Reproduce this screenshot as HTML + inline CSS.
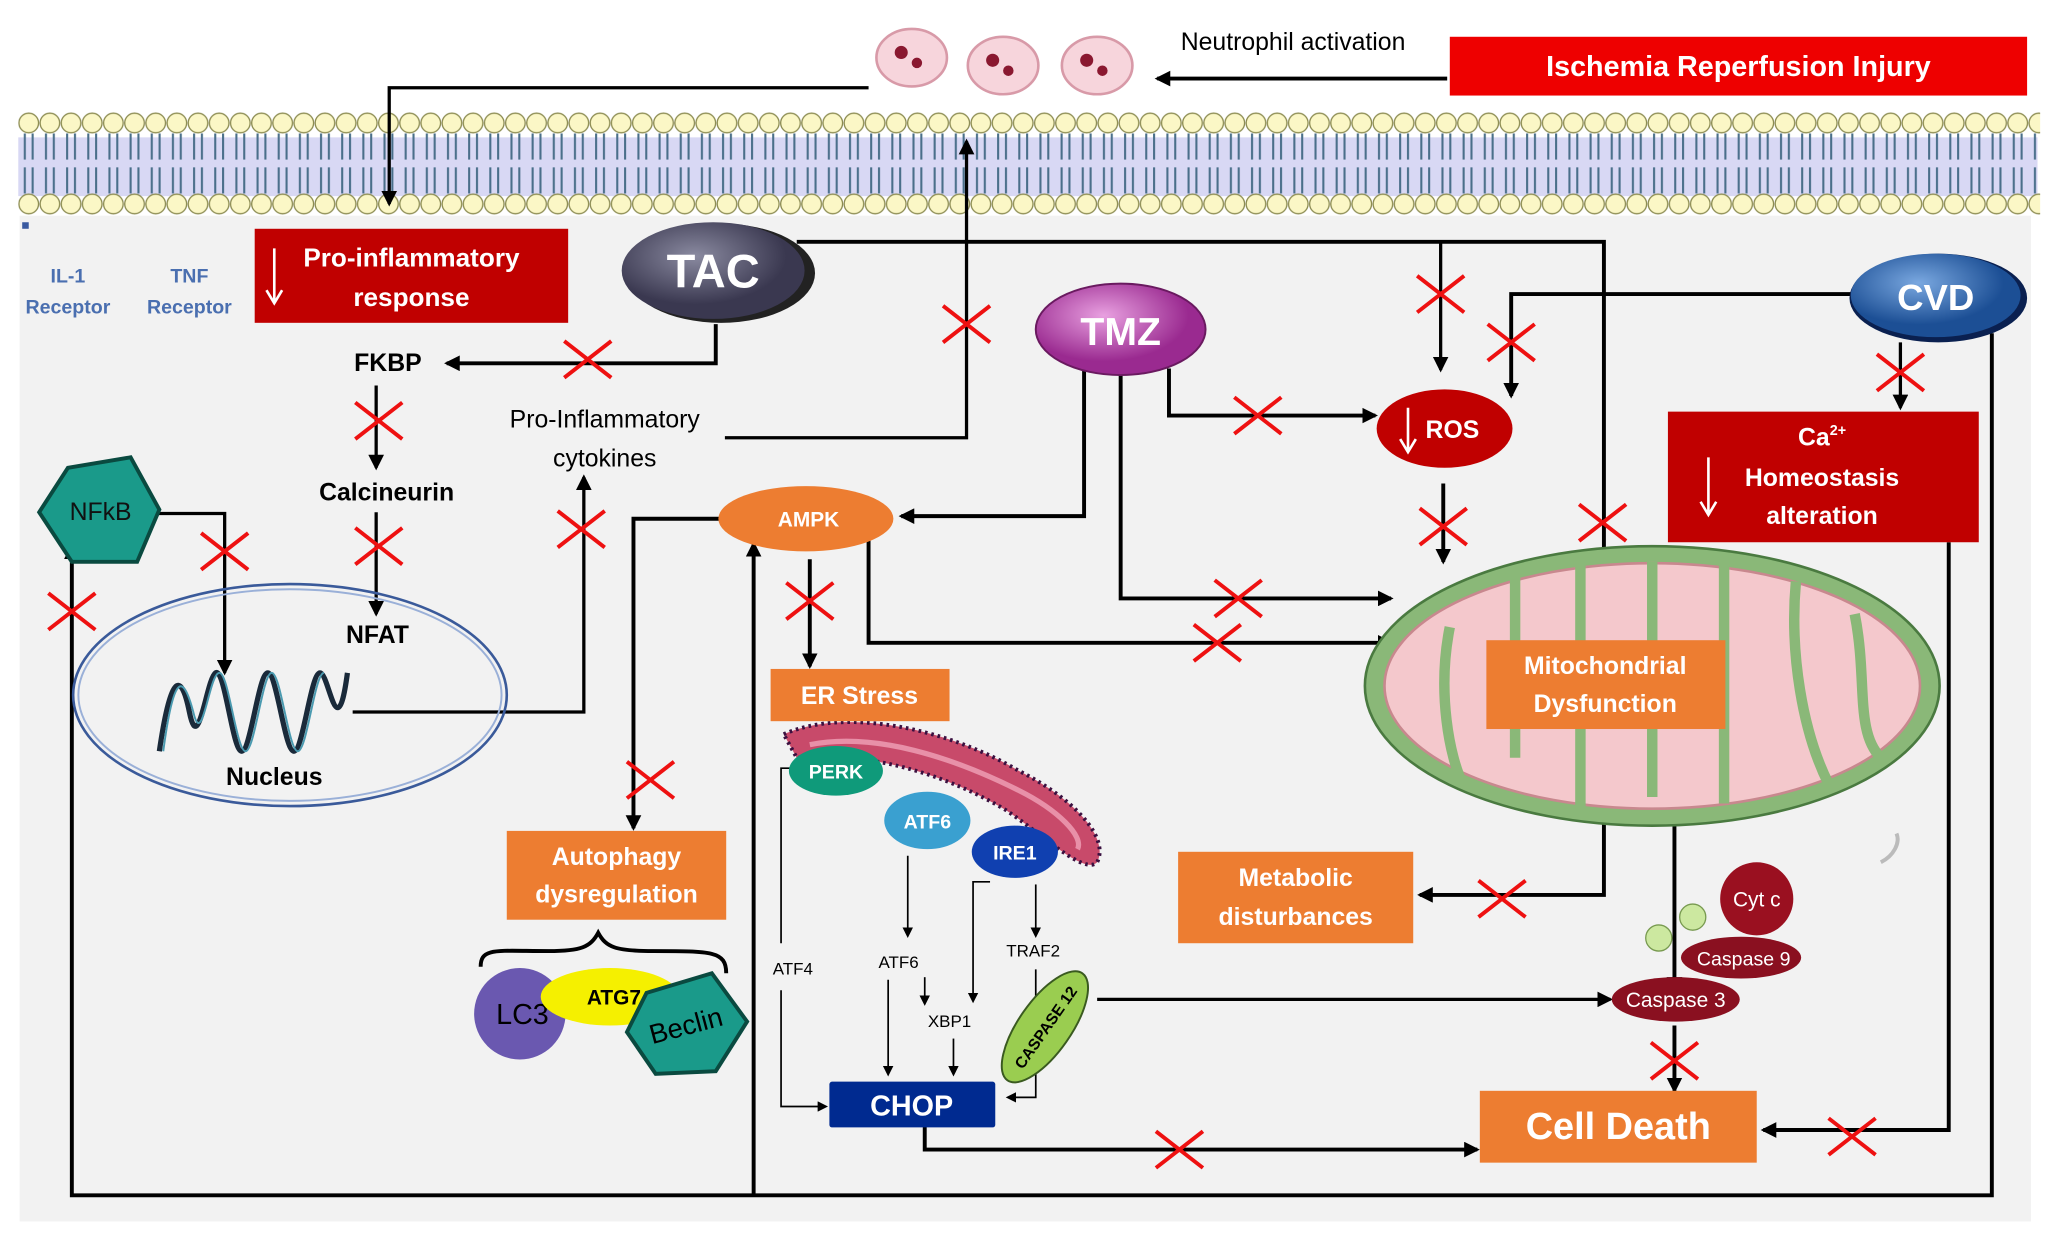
<!DOCTYPE html>
<html><head><meta charset="utf-8"><style>
html,body{margin:0;padding:0;background:#fff}
svg{display:block}
text{font-family:"Liberation Sans",sans-serif}
</style></head><body>
<svg width="2048" height="1236" viewBox="0 0 1568 946" xmlns="http://www.w3.org/2000/svg">
<defs>
<marker id="a" markerWidth="8" markerHeight="8" refX="6" refY="4" orient="auto" markerUnits="userSpaceOnUse"><path d="M0,0 L8,4 L0,8 Z" fill="#000"/></marker>
<marker id="b" markerWidth="12" markerHeight="12" refX="10" refY="6" orient="auto" markerUnits="userSpaceOnUse"><path d="M0,0 L12,6 L0,12 Z" fill="#000"/></marker>
<pattern id="mem" x="14" y="0" width="16.2" height="80" patternUnits="userSpaceOnUse">
<circle cx="8" cy="95" r="7.5" fill="#fbf7c6" stroke="#8a8a50" stroke-width="1"/>
</pattern>
<pattern id="lip" x="14" y="85" width="16.2" height="80" patternUnits="userSpaceOnUse">
<circle cx="8" cy="9" r="7.5" fill="#fbf7c6" stroke="#8a8a50" stroke-width="1"/>
<circle cx="8" cy="71" r="7.5" fill="#fbf7c6" stroke="#8a8a50" stroke-width="1"/>
<path d="M5,17 v20 M11,17 v20 M5,43 v20 M11,43 v20" stroke="#4a6f8a" stroke-width="1.6"/>
</pattern>
<radialGradient id="gTAC" cx="40%" cy="35%"><stop offset="0" stop-color="#8a8aa0"/><stop offset="1" stop-color="#3a3850"/></radialGradient>
<radialGradient id="gTMZ" cx="40%" cy="35%"><stop offset="0" stop-color="#e8a0e0"/><stop offset="1" stop-color="#9a2a90"/></radialGradient>
<radialGradient id="gCVD" cx="40%" cy="35%"><stop offset="0" stop-color="#7aa8e0"/><stop offset="1" stop-color="#1c4f95"/></radialGradient>
</defs>
<rect x="15" y="165" width="1540" height="770" fill="#f2f2f2"/>
<rect x="14" y="105" width="1546" height="45" fill="#c8c8f0" opacity="0.7"/>
<rect x="14" y="85" width="1548" height="80" fill="url(#lip)"/>
<rect x="17" y="170" width="5" height="5" fill="#3a5aa0"/>

<!-- top -->
<rect x="1110" y="28" width="442" height="45" fill="#ee0000"/>
<text x="1331" y="58" fill="#fff" font-size="22" font-weight="bold" text-anchor="middle">Ischemia Reperfusion Injury</text>
<text x="990" y="38" font-size="19" text-anchor="middle">Neutrophil activation</text>
<g fill="#f7d5dc" stroke="#d89aa8" stroke-width="2">
<ellipse cx="698" cy="44" rx="27" ry="22"/><ellipse cx="768" cy="50" rx="27" ry="22"/><ellipse cx="840" cy="50" rx="27" ry="22"/></g>
<g fill="#8a1830"><circle cx="690" cy="40" r="5"/><circle cx="702" cy="48" r="4"/><circle cx="760" cy="46" r="5"/><circle cx="772" cy="54" r="4"/><circle cx="832" cy="46" r="5"/><circle cx="844" cy="54" r="4"/></g>
<g stroke="#000" stroke-width="3" fill="none">
<path d="M1108,60 H886" marker-end="url(#b)"/>
<path d="M665,67 H298 V156" marker-end="url(#b)" stroke-width="2.5"/>
<path d="M610,185 H1228 V490" marker-end="url(#b)"/>
<path d="M1103,185 V283" marker-end="url(#b)" stroke-width="2.5"/>
<path d="M1417,225 H1157 V303" marker-end="url(#b)"/>
<path d="M1455,262 V312" marker-end="url(#b)" stroke-width="2.5"/>
<path d="M1525,255 V915 H55 V418" marker-end="url(#b)"/>
<path d="M577,915 V416" marker-end="url(#b)"/>
<path d="M1492,415 V865 H1350" marker-end="url(#b)"/>
<path d="M548,248 V278 H342" marker-end="url(#b)"/>
<path d="M288,295 V358" marker-end="url(#b)" stroke-width="2.5"/>
<path d="M288,392 V470" marker-end="url(#b)" stroke-width="2.5"/>
<path d="M120,393 H172 V515" marker-end="url(#b)" stroke-width="2.5"/>
<path d="M270,545 H447 V365" marker-end="url(#b)" stroke-width="2.5"/>
<path d="M555,335 H740 V108" marker-end="url(#b)" stroke-width="2.5"/>
<path d="M830,282 V395 H690" marker-end="url(#b)"/>
<path d="M858,282 V458 H1065" marker-end="url(#b)"/>
<path d="M895,282 V318 H1053" marker-end="url(#b)"/>
<path d="M1105,370 V430" marker-end="url(#b)"/>
<path d="M665,410 V492 H1065" marker-end="url(#b)"/>
<path d="M552,397 H485 V634" marker-end="url(#b)"/>
<path d="M620,428 V510" marker-end="url(#b)"/>
<path d="M1228,555 V685 H1087" marker-end="url(#b)"/>
<path d="M1282,630 V758" marker-end="url(#b)"/>
<path d="M1282,785 V835" marker-end="url(#b)"/>
<path d="M840,765 H1233" marker-end="url(#b)" stroke-width="2.5"/>
<path d="M708,862 V880 H1131" marker-end="url(#b)"/>
</g>
<g stroke="#000" stroke-width="1.3" fill="none">
<path d="M612,588 H598 V722"/><path d="M598,758 V847 H632" marker-end="url(#a)"/>
<path d="M695,655 V716" marker-end="url(#a)"/>
<path d="M680,750 V822" marker-end="url(#a)"/><path d="M708,748 V768" marker-end="url(#a)"/>
<path d="M730,795 V822" marker-end="url(#a)"/>
<path d="M758,675 H745 V766" marker-end="url(#a)"/>
<path d="M793,677 V716" marker-end="url(#a)"/>
<path d="M793,742 V840 H772" marker-end="url(#a)"/>
</g>

<!-- boxes -->
<rect x="195" y="175" width="240" height="72" fill="#c00000"/>
<text x="315" y="204" fill="#fff" font-size="20" font-weight="bold" text-anchor="middle">Pro-inflammatory</text>
<text x="315" y="234" fill="#fff" font-size="20" font-weight="bold" text-anchor="middle">response</text>
<path d="M210,190 V230 M204,222 L210,232 L216,222" stroke="#fff" stroke-width="2" fill="none"/>
<text x="52" y="216" fill="#4a6fb0" font-size="15" font-weight="bold" text-anchor="middle">IL-1</text>
<text x="52" y="240" fill="#4a6fb0" font-size="15" font-weight="bold" text-anchor="middle">Receptor</text>
<text x="145" y="216" fill="#4a6fb0" font-size="15" font-weight="bold" text-anchor="middle">TNF</text>
<text x="145" y="240" fill="#4a6fb0" font-size="15" font-weight="bold" text-anchor="middle">Receptor</text>

<ellipse cx="552" cy="209" rx="72" ry="38" fill="#222"/>
<ellipse cx="546" cy="207" rx="70" ry="37" fill="url(#gTAC)"/>
<text x="546" y="220" fill="#fff" font-size="36" font-weight="bold" text-anchor="middle">TAC</text>
<ellipse cx="858" cy="252" rx="65" ry="35" fill="url(#gTMZ)" stroke="#6a1a60" stroke-width="1.5"/>
<text x="858" y="264" fill="#fff" font-size="30" font-weight="bold" text-anchor="middle">TMZ</text>
<ellipse cx="1484" cy="228" rx="68" ry="34" fill="#0a2050"/>
<ellipse cx="1482" cy="226" rx="65" ry="32" fill="url(#gCVD)"/>
<text x="1482" y="237" fill="#fff" font-size="28" font-weight="bold" text-anchor="middle">CVD</text>
<ellipse cx="1106" cy="328" rx="52" ry="30" fill="#c00000"/>
<text x="1112" y="335" fill="#fff" font-size="19" font-weight="bold" text-anchor="middle">ROS</text>
<path d="M1078,312 V344 M1072,336 L1078,346 L1084,336" stroke="#fff" stroke-width="2" fill="none"/>
<rect x="1277" y="315" width="238" height="100" fill="#c00000"/>
<text x="1395" y="341" fill="#fff" font-size="19" font-weight="bold" text-anchor="middle">Ca<tspan font-size="11" dy="-8">2+</tspan></text>
<text x="1395" y="372" fill="#fff" font-size="19" font-weight="bold" text-anchor="middle">Homeostasis</text>
<text x="1395" y="401" fill="#fff" font-size="19" font-weight="bold" text-anchor="middle">alteration</text>
<path d="M1308,350 V392 M1302,384 L1308,394 L1314,384" stroke="#fff" stroke-width="2" fill="none"/>

<text x="297" y="284" font-size="19" font-weight="bold" text-anchor="middle">FKBP</text>
<text x="296" y="383" font-size="19" font-weight="bold" text-anchor="middle">Calcineurin</text>
<text x="289" y="492" font-size="19" font-weight="bold" text-anchor="middle">NFAT</text>
<text x="463" y="327" font-size="19" text-anchor="middle">Pro-Inflammatory</text>
<text x="463" y="357" font-size="19" text-anchor="middle">cytokines</text>

<!-- nucleus -->
<ellipse cx="222" cy="532" rx="166" ry="85" fill="none" stroke="#3a5a9a" stroke-width="2"/>
<ellipse cx="222" cy="532" rx="162" ry="81" fill="none" stroke="#9ab0d8" stroke-width="1.5"/>
<path d="M122,575 C130,520 138,510 145,545 C152,580 158,520 165,515 C172,510 178,575 185,575 C192,575 198,515 205,515 C212,515 218,575 225,575 C232,575 238,515 245,515 C252,515 258,575 266,515" stroke="#1a2a3a" stroke-width="4" fill="none"/>
<path d="M125,575 C133,515 140,515 148,545 C155,575 160,515 168,515 C175,515 181,575 188,575 C195,575 201,515 208,515 C215,515 221,575 228,575 C235,575 241,515 248,515" stroke="#4a9ab0" stroke-width="1.5" fill="none"/>
<text x="210" y="601" font-size="19" font-weight="bold" text-anchor="middle">Nucleus</text>

<!-- NFkB -->
<polygon points="52,358 100,350 122,390 105,430 55,430 30,392" fill="#1a9a8a" stroke="#0a4a40" stroke-width="3"/>
<text x="77" y="398" font-size="19" text-anchor="middle" fill="#111">NFkB</text>

<!-- AMPK / ER -->
<ellipse cx="617" cy="397" rx="67" ry="25" fill="#ed7d31"/>
<text x="619" y="403" fill="#fff" font-size="16" font-weight="bold" text-anchor="middle">AMPK</text>
<path d="M600,562 C650,540 730,560 780,590 C820,610 850,640 840,660 C830,670 800,640 770,620 C720,590 660,575 610,580 Z" fill="#c84a6a" stroke="#3a1040" stroke-width="3" stroke-dasharray="2,3"/>
<path d="M620,570 C670,560 730,580 780,605 C810,620 830,640 825,650" stroke="#e890a8" stroke-width="4" fill="none"/>
<rect x="590" y="512" width="137" height="40" fill="#ed7d31"/>
<text x="658" y="539" fill="#fff" font-size="19" font-weight="bold" text-anchor="middle">ER Stress</text>
<ellipse cx="640" cy="590" rx="36" ry="19" fill="#0f9a7a"/>
<text x="640" y="596" fill="#fff" font-size="15" font-weight="bold" text-anchor="middle">PERK</text>
<ellipse cx="710" cy="628" rx="33" ry="22" fill="#3aa0d0"/>
<text x="710" y="634" fill="#fff" font-size="15" font-weight="bold" text-anchor="middle">ATF6</text>
<ellipse cx="777" cy="652" rx="33" ry="20" fill="#1040b0"/>
<text x="777" y="658" fill="#fff" font-size="15" font-weight="bold" text-anchor="middle">IRE1</text>
<text x="607" y="746" font-size="13" text-anchor="middle">ATF4</text>
<text x="688" y="741" font-size="13" text-anchor="middle">ATF6</text>
<text x="727" y="786" font-size="13" text-anchor="middle">XBP1</text>
<text x="791" y="732" font-size="13" text-anchor="middle">TRAF2</text>
<rect x="635" y="828" width="127" height="35" fill="#002a90" rx="2"/>
<text x="698" y="854" fill="#fff" font-size="22" font-weight="bold" text-anchor="middle">CHOP</text>
<ellipse cx="800" cy="786" rx="50" ry="20" fill="#9acd50" stroke="#3a5a20" stroke-width="1.5" transform="rotate(-55 800 786)"/>
<text x="800" y="791" font-size="12" font-weight="bold" text-anchor="middle" transform="rotate(-55 800 786)">CASPASE 12</text>

<!-- autophagy -->
<rect x="388" y="636" width="168" height="68" fill="#ed7d31"/>
<text x="472" y="662" fill="#fff" font-size="19" font-weight="bold" text-anchor="middle">Autophagy</text>
<text x="472" y="691" fill="#fff" font-size="19" font-weight="bold" text-anchor="middle">dysregulation</text>
<path d="M368,740 C368,725 380,728 420,728 C445,728 452,725 458,714 C464,725 471,728 500,728 C545,728 556,728 556,745" stroke="#000" stroke-width="3" fill="none"/>
<circle cx="398" cy="776" r="35" fill="#6a58b0"/>
<text x="400" y="784" font-size="22" text-anchor="middle">LC3</text>
<ellipse cx="467" cy="763" rx="53" ry="22" fill="#f5f000"/>
<text x="470" y="769" font-size="16" font-weight="bold" text-anchor="middle">ATG7</text>
<polygon points="495,760 545,745 572,782 548,820 502,822 480,790" fill="#1a9a8a" stroke="#0a4a40" stroke-width="3"/>
<text x="527" y="792" font-size="21" text-anchor="middle" transform="rotate(-15 527 792)">Beclin</text>

<!-- mitochondria -->
<ellipse cx="1265" cy="525" rx="220" ry="107" fill="#8ab878" stroke="#4a7a40" stroke-width="2"/>
<ellipse cx="1265" cy="525" rx="205" ry="94" fill="#f4c8cc" stroke="#c8888e" stroke-width="2"/>
<g stroke="#8ab878" stroke-width="8" fill="none">
<path d="M1110,480 C1100,530 1110,580 1120,600"/><path d="M1160,440 V580"/><path d="M1210,432 V620"/><path d="M1265,430 V610"/><path d="M1320,432 V615"/><path d="M1375,445 C1370,500 1380,560 1400,600"/><path d="M1420,470 C1430,520 1420,560 1440,580"/></g>
<rect x="1138" y="490" width="183" height="68" fill="#ed7d31"/>
<text x="1229" y="516" fill="#fff" font-size="19" font-weight="bold" text-anchor="middle">Mitochondrial</text>
<text x="1229" y="545" fill="#fff" font-size="19" font-weight="bold" text-anchor="middle">Dysfunction</text>
<path d="M1440,660 C1450,655 1455,645 1452,638" stroke="#bbb" stroke-width="3" fill="none"/>
<rect x="902" y="652" width="180" height="70" fill="#ed7d31"/>
<text x="992" y="678" fill="#fff" font-size="19" font-weight="bold" text-anchor="middle">Metabolic</text>
<text x="992" y="708" fill="#fff" font-size="19" font-weight="bold" text-anchor="middle">disturbances</text>

<!-- caspases -->
<circle cx="1270" cy="718" r="10" fill="#cce8a0" stroke="#789a50"/>
<circle cx="1296" cy="702" r="10" fill="#cce8a0" stroke="#789a50"/>
<circle cx="1345" cy="688" r="28" fill="#9a1020"/>
<text x="1345" y="694" fill="#fff" font-size="16" text-anchor="middle">Cyt c</text>
<ellipse cx="1333" cy="733" rx="46" ry="16" fill="#8a1020"/>
<text x="1335" y="739" fill="#fff" font-size="15" text-anchor="middle">Caspase 9</text>
<ellipse cx="1283" cy="765" rx="49" ry="17" fill="#8a1020"/>
<text x="1283" y="771" fill="#fff" font-size="16" text-anchor="middle">Caspase 3</text>
<rect x="1133" y="835" width="212" height="55" fill="#ed7d31"/>
<text x="1239" y="872" fill="#fff" font-size="29" font-weight="bold" text-anchor="middle">Cell Death</text>

<!-- crosses -->
<g stroke="#ee1111" stroke-width="3">
<path id="x" d="M-18,-14 L18,14 M18,-14 L-18,14" transform="translate(450,275)"/>
<path d="M-18,-14 L18,14 M18,-14 L-18,14" transform="translate(290,322)"/>
<path d="M-18,-14 L18,14 M18,-14 L-18,14" transform="translate(290,418)"/>
<path d="M-18,-14 L18,14 M18,-14 L-18,14" transform="translate(172,422)"/>
<path d="M-18,-14 L18,14 M18,-14 L-18,14" transform="translate(55,468)"/>
<path d="M-18,-14 L18,14 M18,-14 L-18,14" transform="translate(445,405)"/>
<path d="M-18,-14 L18,14 M18,-14 L-18,14" transform="translate(740,248)"/>
<path d="M-18,-14 L18,14 M18,-14 L-18,14" transform="translate(1103,225)"/>
<path d="M-18,-14 L18,14 M18,-14 L-18,14" transform="translate(1157,262)"/>
<path d="M-18,-14 L18,14 M18,-14 L-18,14" transform="translate(963,318)"/>
<path d="M-18,-14 L18,14 M18,-14 L-18,14" transform="translate(1455,285)"/>
<path d="M-18,-14 L18,14 M18,-14 L-18,14" transform="translate(1105,403)"/>
<path d="M-18,-14 L18,14 M18,-14 L-18,14" transform="translate(1227,400)"/>
<path d="M-18,-14 L18,14 M18,-14 L-18,14" transform="translate(948,458)"/>
<path d="M-18,-14 L18,14 M18,-14 L-18,14" transform="translate(932,492)"/>
<path d="M-18,-14 L18,14 M18,-14 L-18,14" transform="translate(620,460)"/>
<path d="M-18,-14 L18,14 M18,-14 L-18,14" transform="translate(498,597)"/>
<path d="M-18,-14 L18,14 M18,-14 L-18,14" transform="translate(1150,688)"/>
<path d="M-18,-14 L18,14 M18,-14 L-18,14" transform="translate(1282,812)"/>
<path d="M-18,-14 L18,14 M18,-14 L-18,14" transform="translate(903,880)"/>
<path d="M-18,-14 L18,14 M18,-14 L-18,14" transform="translate(1418,870)"/>
</g>
</svg>
</body></html>
